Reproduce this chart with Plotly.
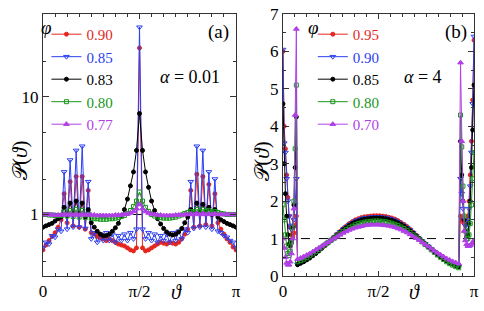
import numpy as np
import plotly.graph_objects as go

PI = np.pi

# ---------------- Panel (a): alpha = 0.01 (log scale) ----------------
THETA_A = np.linspace(0, PI, 65)
PHI_A = ["0.90", "0.85", "0.83", "0.80", "0.77"]

A_090 = [0.50, 0.55, 0.60, 0.65, 0.70, 0.78, 0.90, 1.5, 0.85, 1.9,
         0.80, 2.1, 0.78, 2.1, 0.75, 1.6, 0.70, 0.68, 0.65, 0.63,
         0.62, 0.60, 0.62, 0.60, 0.58, 0.56, 0.55, 0.54, 0.52, 0.50,
         0.49, 0.52, 26.0, 0.52, 0.49, 0.50, 0.52, 0.54, 0.56, 0.58,
         0.57, 0.56, 0.58, 0.57, 0.56, 0.58, 0.62, 0.68, 0.75, 1.6,
         0.78, 2.2, 0.80, 2.1, 0.82, 1.8, 0.80, 1.5, 0.85, 0.75,
         0.68, 0.62, 0.58, 0.53, 0.50]
A_085 = [0.52, 0.58, 0.56, 0.66, 0.64, 0.75, 0.72, 2.3, 0.75, 2.9,
         0.78, 3.5, 0.78, 3.8, 0.76, 1.9, 0.62, 0.70, 0.58, 0.68,
         0.60, 0.70, 0.60, 0.68, 0.58, 0.66, 0.60, 0.68, 0.60, 0.70,
         0.62, 0.75, 39.0, 0.75, 0.62, 0.70, 0.60, 0.68, 0.58, 0.66,
         0.60, 0.68, 0.58, 0.70, 0.60, 0.72, 0.62, 0.75, 0.70, 1.9,
         0.76, 3.8, 0.78, 3.5, 0.78, 2.3, 0.75, 2.0, 0.72, 0.70,
         0.66, 0.64, 0.60, 0.58, 0.52]
A_083 = [0.78, 0.80, 0.82, 0.84, 0.88, 0.92, 0.95, 1.15, 0.98, 1.25,
         1.00, 1.30, 1.00, 1.25, 0.95, 1.10, 0.85, 0.78, 0.72, 0.68,
         0.66, 0.66, 0.68, 0.72, 0.77, 0.84, 0.98, 1.10, 1.35, 1.75,
         2.30, 3.50, 7.20, 3.50, 2.30, 1.70, 1.30, 1.08, 0.92, 0.83,
         0.76, 0.71, 0.68, 0.67, 0.68, 0.71, 0.76, 0.85, 0.95, 1.10,
         1.02, 1.25, 1.05, 1.22, 1.05, 1.15, 1.00, 1.10, 0.95, 0.90,
         0.87, 0.84, 0.82, 0.80, 0.78]
A_080 = [1.00, 1.00, 0.99, 0.99, 0.98, 0.98, 0.98,
         1.05, 0.97, 1.08, 0.96, 1.10, 0.95, 1.08, 0.94, 1.00,
         0.93, 0.92, 0.92, 0.91, 0.91, 0.91, 0.92, 0.92, 0.93, 0.94, 0.96, 0.98,
         1.02, 1.08, 1.17, 1.30, 1.55, 1.30, 1.15, 1.06, 1.00,
         0.97, 0.95, 0.94, 0.93, 0.93, 0.93, 0.94, 0.95, 0.97, 0.99,
         1.02, 1.04, 1.06, 1.05, 1.10, 1.06, 1.10, 1.06, 1.08, 1.05, 1.06,
         1.04, 1.02, 1.01, 1.00, 1.00, 1.00, 1.00]
A_077 = [1.00, 1.00, 1.00, 0.99, 0.99, 0.99, 0.99, 1.01, 0.99, 1.01,
         0.99, 1.01, 0.99, 1.01, 0.99, 1.00, 0.99, 0.99, 0.98, 0.98,
         0.98, 0.98, 0.98, 0.98, 0.99, 0.99, 0.99, 1.00, 1.01, 1.03,
         1.06, 1.12, 1.22, 1.12, 1.06, 1.03, 1.01, 1.00, 0.99, 0.99,
         0.98, 0.98, 0.98, 0.98, 0.99, 0.99, 0.99, 1.00, 1.00, 1.01,
         1.00, 1.02, 1.00, 1.02, 1.00, 1.01, 1.00, 1.01, 1.00, 1.00,
         1.00, 1.00, 1.00, 1.00, 1.00]
SERIES_A = [A_090, A_085, A_083, A_080, A_077]

# ---------------- Panel (b): alpha = 4 (linear scale) ----------------
PHI_B = ["0.95", "0.90", "0.85", "0.80", "0.70"]
THETA_B_LEFT = [0.00, 0.02, 0.04, 0.06, 0.08, 0.10, 0.12, 0.14, 0.16, 0.18, 0.20, 0.22]
THETA_B_MID = [round(0.24 + 0.05 * k, 2) for k in range(54)]
THETA_B_RIGHT = [2.92, 2.94, 2.96, 2.98, 3.00, 3.02, 3.04, 3.06, 3.08, 3.10, 3.12, PI]
THETA_B = THETA_B_LEFT + THETA_B_MID + THETA_B_RIGHT

B_095 = ([6.0, 4.0, 3.4, 2.7, 2.1, 1.6, 1.3, 1.1, 1.05, 1.15, 1.35, 1.6] +
         [0.32, 0.36, 0.40, 0.45, 0.50, 0.56, 0.62, 0.69, 0.76, 0.83, 0.90, 0.97, 1.04, 1.12,
          1.19, 1.27, 1.33, 1.40, 1.45, 1.50, 1.53, 1.56, 1.58, 1.59, 1.60, 1.61, 1.61, 1.61,
          1.60, 1.59, 1.57, 1.55, 1.52, 1.48, 1.43, 1.38, 1.32, 1.25, 1.17, 1.09, 1.01, 0.93,
          0.86, 0.79, 0.72, 0.65, 0.59, 0.53, 0.47, 0.42, 0.37, 0.33, 0.29, 0.26] +
         [1.6, 1.5, 1.45, 1.4, 1.35, 1.4, 1.6, 2.0, 2.7, 3.6, 4.7, 6.3])
B_090 = ([6.05, 3.55, 3.3, 2.6, 2.0, 1.6, 1.35, 1.25, 1.3, 1.5, 1.9, 2.6] +
         [0.31, 0.35, 0.39, 0.44, 0.49, 0.55, 0.61, 0.68, 0.75, 0.82, 0.89, 0.96, 1.03, 1.11,
          1.18, 1.25, 1.31, 1.37, 1.42, 1.47, 1.50, 1.53, 1.55, 1.56, 1.57, 1.58, 1.58, 1.58,
          1.57, 1.56, 1.54, 1.52, 1.49, 1.45, 1.40, 1.35, 1.29, 1.23, 1.16, 1.08, 1.00, 0.93,
          0.86, 0.79, 0.72, 0.65, 0.58, 0.52, 0.46, 0.41, 0.36, 0.32, 0.28, 0.25] +
         [2.6, 2.2, 1.8, 1.5, 1.35, 1.3, 1.45, 1.8, 2.4, 3.3, 4.6, 6.4])
B_085 = ([4.6, 3.0, 2.2, 1.6, 1.1, 0.85, 0.8, 0.95, 1.3, 1.9, 2.9, 4.25] +
         [0.30, 0.34, 0.38, 0.43, 0.48, 0.54, 0.60, 0.67, 0.74, 0.81, 0.88, 0.95, 1.02, 1.09,
          1.16, 1.23, 1.29, 1.35, 1.40, 1.44, 1.47, 1.50, 1.52, 1.53, 1.54, 1.55, 1.55, 1.55,
          1.54, 1.53, 1.51, 1.49, 1.46, 1.42, 1.38, 1.33, 1.27, 1.21, 1.14, 1.07, 1.00, 0.93,
          0.86, 0.79, 0.72, 0.65, 0.58, 0.52, 0.46, 0.41, 0.36, 0.32, 0.28, 0.25] +
         [3.6, 2.7, 2.0, 1.5, 1.2, 1.05, 1.1, 1.4, 2.0, 2.9, 3.9, 5.1])
B_080 = ([1.9, 1.5, 1.1, 0.8, 0.6, 0.55, 0.65, 0.9, 1.3, 2.0, 3.4, 5.1] +
         [0.38, 0.41, 0.45, 0.49, 0.54, 0.59, 0.65, 0.71, 0.77, 0.83, 0.89, 0.95, 1.01, 1.07,
          1.13, 1.19, 1.24, 1.29, 1.33, 1.37, 1.40, 1.42, 1.44, 1.45, 1.46, 1.47, 1.47, 1.47,
          1.46, 1.45, 1.43, 1.41, 1.38, 1.35, 1.31, 1.27, 1.22, 1.16, 1.10, 1.04, 0.98, 0.91,
          0.84, 0.77, 0.70, 0.63, 0.56, 0.50, 0.44, 0.38, 0.33, 0.29, 0.25, 0.22] +
         [4.3, 3.45, 2.4, 1.6, 1.2, 1.0, 1.0, 1.1, 1.4, 1.9, 2.6, 3.3])
B_070 = ([1.0, 0.75, 0.5, 0.35, 0.3, 0.3, 0.38, 0.6, 1.0, 1.8, 4.3, 6.6] +
         [0.45, 0.48, 0.52, 0.56, 0.60, 0.65, 0.70, 0.75, 0.80, 0.85, 0.90, 0.95, 1.00, 1.05,
          1.10, 1.15, 1.19, 1.23, 1.26, 1.29, 1.31, 1.33, 1.35, 1.36, 1.37, 1.37, 1.37, 1.37,
          1.36, 1.35, 1.34, 1.32, 1.30, 1.27, 1.24, 1.20, 1.16, 1.11, 1.06, 1.01, 0.96, 0.90,
          0.84, 0.79, 0.73, 0.67, 0.62, 0.57, 0.52, 0.47, 0.43, 0.39, 0.36, 0.33] +
         [5.7, 3.6, 2.0, 1.2, 0.95, 0.85, 0.8, 0.8, 0.82, 0.86, 0.9, 0.95])
SERIES_B = [B_095, B_090, B_085, B_080, B_070]

REF_LEVEL = 1.0

COLORS = ["#e5261e", "#2b3ef2", "#000000", "#17961a", "#b040e6"]
SYMBOLS = ["circle", "triangle-down-open", "circle", "square-open", "triangle-up"]
SIZES = [4, 5, 4, 4, 5]

SERIF = "Liberation Serif"

fig = go.Figure()

# reference dashed lines
fig.add_trace(go.Scatter(x=[0, PI], y=[REF_LEVEL, REF_LEVEL], mode="lines",
                         line=dict(color="black", width=1, dash="dash"),
                         showlegend=False, xaxis="x", yaxis="y", hoverinfo="skip"))
fig.add_trace(go.Scatter(x=[0, PI], y=[REF_LEVEL, REF_LEVEL], mode="lines",
                         line=dict(color="black", width=1, dash="dash"),
                         showlegend=False, xaxis="x2", yaxis="y2", hoverinfo="skip"))


def label(name, c):
    return f"<span style='color:{c};font-family:Liberation Serif'>{name}</span>"


for vals, name, c, s, sz in zip(SERIES_A, PHI_A, COLORS, SYMBOLS, SIZES):
    fig.add_trace(go.Scatter(
        x=THETA_A, y=vals, mode="lines+markers", name=label(name, c),
        line=dict(color=c, width=1),
        marker=dict(symbol=s, size=sz, color=c, line=dict(color=c, width=1)),
        xaxis="x", yaxis="y", legend="legend"))

for vals, name, c, s, sz in zip(SERIES_B, PHI_B, COLORS, SYMBOLS, SIZES):
    fig.add_trace(go.Scatter(
        x=THETA_B, y=vals, mode="lines+markers", name=label(name, c),
        line=dict(color=c, width=1),
        marker=dict(symbol=s, size=sz, color=c, line=dict(color=c, width=1)),
        xaxis="x2", yaxis="y2", legend="legend2"))

axis_common = dict(showline=True, linecolor="#333", linewidth=1, mirror="allticks",
                   ticks="inside", tickcolor="#333", showgrid=False, zeroline=False,
                   automargin=False, ticklabeloverflow="allow",
                   tickfont=dict(family=SERIF, size=17, color="black"))

xticks = dict(tickmode="array", tickvals=[0, PI / 2, PI], ticktext=["0", "π/2", "π"],
              ticklen=5, minor=dict(ticks="inside", dtick=PI / 16, tick0=0, ticklen=3,
                                    tickcolor="#333"))

fig.update_layout(
    width=484, height=311,
    margin=dict(l=43, r=10, t=14, b=35, autoexpand=False),
    plot_bgcolor="white", paper_bgcolor="white",
    font=dict(family=SERIF, size=15, color="black"),
    xaxis=dict(domain=[0, 0.4478], range=[0, PI], anchor="y", **xticks, **axis_common),
    yaxis=dict(type="log", range=[np.log10(0.30), np.log10(50.5)], anchor="x",
               tickmode="array", tickvals=[1, 10], ticktext=["1", "10"], ticklen=6,
               minor=dict(ticks="inside", tickvals=[0.4, 2, 5, 20, 50], ticklen=3,
                          tickcolor="#333"),
               **axis_common),
    xaxis2=dict(domain=[0.5568, 1.0], range=[0, PI], anchor="y2", **xticks, **axis_common),
    yaxis2=dict(range=[0, 7], anchor="x2", dtick=1, ticklen=6,
                minor=dict(ticks="inside", dtick=0.5, ticklen=3, tickcolor="#333"),
                **axis_common),
    legend=dict(x=0.008, y=0.985, xanchor="left", yanchor="top", bgcolor="rgba(0,0,0,0)",
                font=dict(family=SERIF, size=15), itemwidth=30, tracegroupgap=0),
    legend2=dict(x=0.626, y=0.985, xanchor="left", yanchor="top", bgcolor="rgba(0,0,0,0)",
                 font=dict(family=SERIF, size=15), itemwidth=30, tracegroupgap=0),
    annotations=[
        dict(text="<i>φ</i>", xref="x domain", yref="y domain", x=0.02, y=0.95,
             xanchor="center", yanchor="middle", showarrow=False,
             font=dict(family=SERIF, size=19)),
        dict(text="<i>φ</i>", xref="x2 domain", yref="y2 domain", x=0.162, y=0.95,
             xanchor="center", yanchor="middle", showarrow=False,
             font=dict(family=SERIF, size=19)),
        dict(text="(a)", xref="x domain", yref="y domain", x=0.975, y=0.93,
             xanchor="right", yanchor="middle", showarrow=False,
             font=dict(family=SERIF, size=19)),
        dict(text="<i>α</i> = 0.01", xref="x domain", yref="y domain", x=0.93, y=0.76,
             xanchor="right", yanchor="middle", showarrow=False,
             font=dict(family=SERIF, size=18)),
        dict(text="(b)", xref="x2 domain", yref="y2 domain", x=0.975, y=0.93,
             xanchor="right", yanchor="middle", showarrow=False,
             font=dict(family=SERIF, size=19)),
        dict(text="<i>α</i> = 4", xref="x2 domain", yref="y2 domain", x=0.845, y=0.76,
             xanchor="right", yanchor="middle", showarrow=False,
             font=dict(family=SERIF, size=18)),
        dict(text="<i>ϑ</i>", xref="x domain", yref="paper", x=0.69, y=-0.062,
             xanchor="center", yanchor="middle", showarrow=False,
             font=dict(family=SERIF, size=20)),
        dict(text="<i>ϑ</i>", xref="x2 domain", yref="paper", x=0.69, y=-0.062,
             xanchor="center", yanchor="middle", showarrow=False,
             font=dict(family=SERIF, size=20)),
        dict(text="𝒫(<i>ϑ</i>)", xref="paper", yref="paper", x=-0.053, y=0.44,
             xanchor="center", yanchor="middle", textangle=-90, showarrow=False,
             font=dict(family=SERIF, size=21)),
        dict(text="𝒫(<i>ϑ</i>)", xref="paper", yref="paper", x=0.508, y=0.44,
             xanchor="center", yanchor="middle", textangle=-90, showarrow=False,
             font=dict(family=SERIF, size=21)),
    ],
)

fig.write_html("out.html", config={"displayModeBar": False},
               post_script="document.body.style.margin='0';")
